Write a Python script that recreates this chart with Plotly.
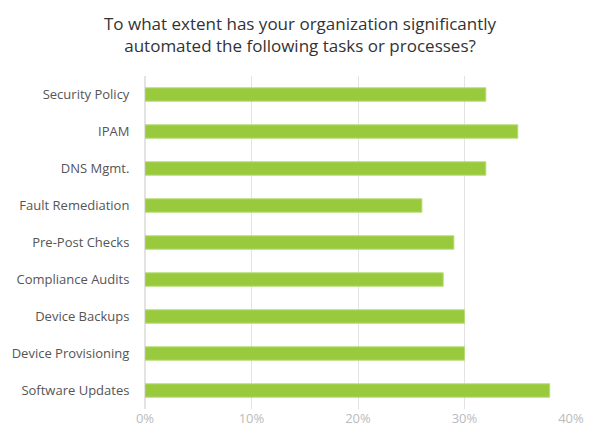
import plotly.graph_objects as go

categories = ["Security Policy", "IPAM", "DNS Mgmt.", "Fault Remediation", "Pre-Post Checks",
              "Compliance Audits", "Device Backups", "Device Provisioning", "Software Updates"]
values = [32, 35, 32, 26, 29, 28, 30, 30, 38]
tick_vals = [0, 10, 20, 30, 40]
tick_text = ["0%", "10%", "20%", "30%", "40%"]
title_text = "To what extent has your organization significantly<br>automated the following tasks or processes?"

fig = go.Figure(go.Bar(
    y=categories, x=values, orientation="h",
    marker=dict(color="#99c93c", line=dict(color="#b5dc72", width=1)),
    hoverinfo="x+y",
))

fig.add_annotation(
    text=title_text, xref="paper", yref="paper", x=(300 - 145) / 426, y=1 + 41.5 / 333,
    xanchor="center", yanchor="middle", showarrow=False, align="center",
    font=dict(family="Open Sans, sans-serif", size=17, color="#333333"),
)

fig.update_layout(
    width=600, height=444,
    margin=dict(l=145, r=29, t=76, b=35),
    paper_bgcolor="white", plot_bgcolor="white",
    bargap=0.64,
    showlegend=False,
    xaxis=dict(range=[0, 40], tickvals=tick_vals, ticktext=tick_text,
               showgrid=True, gridcolor="#e3e3e3", gridwidth=1,
               zeroline=True, zerolinecolor="#e3e3e3", showline=False,
               tickfont=dict(family="Open Sans, sans-serif", size=13, color="#bbbbbb"),
               ticks="", ticklen=0),
    yaxis=dict(autorange="reversed", showgrid=False, zeroline=False, showline=False,
               tickfont=dict(family="Open Sans, sans-serif", size=13, color="#555555"),
               ticks="outside", ticklen=12, tickcolor="rgba(0,0,0,0)"),
)

fig.write_html("out.html")
